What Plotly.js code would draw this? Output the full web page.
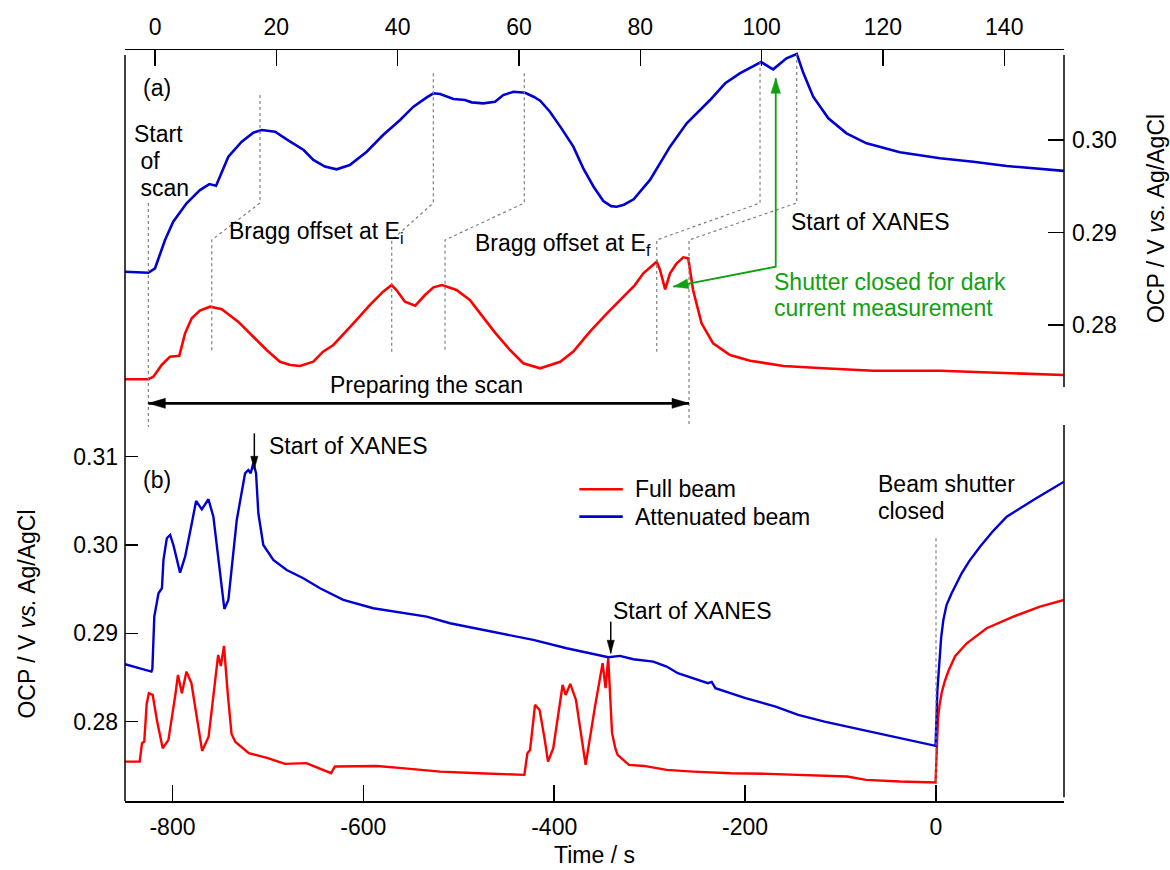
<!DOCTYPE html>
<html><head><meta charset="utf-8">
<script src="https://cdn.plot.ly/plotly-3.0.1.min.js"></script>
<style>html,body{margin:0;padding:0;background:#fff}#chart{width:1170px;height:870px}</style>
</head><body><div id="chart"></div>
<script>
// ---------------- DATA ----------------
// Panel (a): zoom on the start of a scan (time in s, OCP in V vs Ag/AgCl)
const aBlueTime = [-4.95,-1.1,0,0.82,1.65,3.0,5.2,7.4,8.96,10.06,12.09,14.29,16.2,17.6,19.8,21.7,24.5,26.1,28.0,29.95,32.1,34.9,37.6,40.4,42.6,44.8,45.9,47.0,49.2,51.1,52.2,54.1,56.05,57.4,59.1,61.0,62.4,63.5,65.1,67.0,68.96,70.6,72.3,73.9,75.2,76.1,77.3,78.9,81.6,84.9,87.65,91.5,94.0,96.4,98.6,99.9,101.9,104.1,105.8,106.9,108.5,111.0,114.0,117.3,122.8,129.4,134.9,140.4,149.8];
const aBlueOCP  = [0.28576,0.28565,0.28613,0.28757,0.28919,0.29117,0.29316,0.29459,0.29524,0.29506,0.29820,0.29982,0.30079,0.30108,0.30090,0.30007,0.29892,0.29784,0.29712,0.29683,0.29730,0.29874,0.30054,0.30216,0.30360,0.30461,0.30505,0.30497,0.30443,0.30432,0.30407,0.30396,0.30414,0.30486,0.30522,0.30511,0.30468,0.30425,0.30306,0.30126,0.29928,0.29694,0.29495,0.29340,0.29285,0.29279,0.29300,0.29359,0.29568,0.29928,0.30180,0.30432,0.30613,0.30721,0.30800,0.30843,0.30764,0.30883,0.30930,0.30721,0.30468,0.30234,0.30072,0.29964,0.29867,0.29802,0.29765,0.29719,0.29666];
const aRedTime = [-4.95,-1.1,-0.28,1.1,2.47,4.0,4.95,6.05,7.4,9.07,11.0,13.7,16.2,18.4,20.6,22.3,23.9,26.1,27.7,29.4,32.7,35.4,37.6,39.0,39.8,41.2,42.9,44.5,45.9,47.3,49.7,51.9,53.6,56.05,58.5,60.7,63.5,66.8,68.96,71.7,74.5,76.7,79.1,80.5,82.7,83.25,84.1,84.9,86.0,87.1,87.9,88.7,90.1,92.0,94.8,98.1,103.6,110.2,118.4,129.4,140.4,149.8];
const aRedOCP  = [0.27413,0.27413,0.27441,0.27568,0.27658,0.27668,0.27910,0.28072,0.28155,0.28198,0.28170,0.28036,0.27873,0.27730,0.27603,0.27568,0.27557,0.27603,0.27712,0.27784,0.28018,0.28216,0.28360,0.28432,0.28378,0.28252,0.28209,0.28324,0.28407,0.28432,0.28378,0.28270,0.28126,0.27918,0.27730,0.27586,0.27532,0.27603,0.27712,0.27928,0.28126,0.28270,0.28432,0.28559,0.28684,0.28595,0.28386,0.28559,0.28667,0.28732,0.28721,0.28378,0.28018,0.27802,0.27676,0.27614,0.27557,0.27532,0.27506,0.27506,0.27478,0.27459];

// Panel (b): full measurement (time relative to beam shutter closing)
const bRedTime = [-849.6,-834.3,-831.9,-829.5,-827,-824.7,-820.7,-816,-810.2,-804.2,-797,-794.2,-790.1,-785.3,-780.1,-774,-768.9,-762.1,-756,-752.1,-749.3,-746,-742.1,-738.1,-734,-730,-720,-700,-682,-659.8,-645.8,-633.8,-629.8,-599.7,-585.6,-559.6,-519.5,-479.4,-431.3,-428.1,-425.3,-420.1,-415.3,-410,-406.5,-401,-394,-391.2,-388,-383.2,-377.2,-373,-367.1,-357.3,-349.3,-346.2,-343.4,-339.4,-336,-333.6,-321.7,-305.9,-282.3,-254.7,-215.3,-175.9,-136.5,-93.1,-73.4,-37.9,-0.5,0.7,2,3.5,6,9.3,12.9,20,32.2,53.1,81,108.9,134.1];
const bRedOCP  = [0.27547,0.27547,0.27755,0.27774,0.28200,0.28322,0.28302,0.28000,0.27698,0.27793,0.28300,0.28529,0.28322,0.28566,0.28435,0.28000,0.27668,0.27830,0.28400,0.28755,0.28630,0.28857,0.28322,0.27860,0.27770,0.27736,0.27642,0.27586,0.27521,0.27530,0.27473,0.27416,0.27492,0.27492,0.27498,0.27473,0.27434,0.27416,0.27397,0.27642,0.27679,0.28189,0.28132,0.27800,0.27547,0.27700,0.28200,0.28415,0.28302,0.28427,0.28245,0.27943,0.27510,0.28170,0.28661,0.28378,0.28718,0.27869,0.27700,0.27623,0.27510,0.27498,0.27453,0.27434,0.27416,0.27408,0.27397,0.27378,0.27340,0.27321,0.27310,0.27793,0.28020,0.28170,0.28330,0.28460,0.28570,0.28740,0.28887,0.29057,0.29189,0.29302,0.29378];
const bBlueTime = [-849.7,-830.5,-822,-821,-819,-814.6,-811,-809.4,-805.9,-802.4,-799,-792,-786.7,-779.7,-775.2,-769.2,-762.3,-757.1,-750.1,-745.6,-741.4,-732.6,-723.9,-720.5,-718,-715.2,-712.4,-710,-704.8,-694.3,-680.3,-662.9,-645.4,-621,-589.6,-561.6,-533.6,-509.2,-491.7,-456.8,-421.9,-387,-352,-343.3,-331.1,-317.1,-296.2,-282.2,-270.5,-239,-235,-231.1,-199.6,-168,-144.4,-116.8,-77.3,-37.9,-0.5,1.5,3.5,5.4,7.7,11,16.4,26.9,35,46.1,60,74.1,102,134.1];
const bBlueOCP  = [0.28650,0.28593,0.28566,0.28600,0.29189,0.29453,0.29510,0.29831,0.30076,0.30114,0.30000,0.29687,0.29868,0.30246,0.30498,0.30404,0.30518,0.30321,0.29641,0.29276,0.29378,0.30283,0.30812,0.30849,0.30812,0.30932,0.30812,0.30359,0.30000,0.29831,0.29717,0.29623,0.29510,0.29378,0.29284,0.29240,0.29189,0.29114,0.29075,0.29000,0.28925,0.28831,0.28755,0.28729,0.28744,0.28706,0.28680,0.28623,0.28548,0.28435,0.28450,0.28378,0.28265,0.28170,0.28076,0.28000,0.27906,0.27812,0.27725,0.28359,0.28700,0.28950,0.29151,0.29320,0.29453,0.29680,0.29820,0.29981,0.30160,0.30321,0.30510,0.30717];

const seriesNames = ['Full beam', 'Attenuated beam'];
const topXTicks = [0,20,40,60,80,100,120,140];
const topYTicks = [0.28,0.29,0.30];
const botXTicks = [-800,-600,-400,-200,0];
const botYTicks = [0.28,0.29,0.30,0.31];

// ---------------- LAYOUT GEOMETRY ----------------
const W = 1170, H = 870;
const M = {l:125, r:106, t:50, b:69};
const PW = W - M.l - M.r, PH = H - M.t - M.b;
const xr1 = [-4.95, 149.85], yr1 = [0.2733, 0.30973], dom1 = [0.5513, 1];
const xr2 = [-849.7, 134.1], yr2 = [0.27101, 0.31336], dom2 = [0, 0.498];
const RED = '#ff0000', BLUE = '#0000d0', GREEN = '#11a011', DOT = '#808080';
const FONT = 'Liberation Sans, Arial, Helvetica, sans-serif';
const FS = 23;

const px1 = t => (t - xr1[0]) / (xr1[1] - xr1[0]);
const py1 = v => dom1[0] + (v - yr1[0]) / (yr1[1] - yr1[0]) * (dom1[1] - dom1[0]);
const px2 = s => (s - xr2[0]) / (xr2[1] - xr2[0]);
const py2 = v => dom2[0] + (v - yr2[0]) / (yr2[1] - yr2[0]) * (dom2[1] - dom2[0]);
const toPix = (xp, yp) => [M.l + xp * PW, M.t + (1 - yp) * PH];
const toPap = (X, Y) => [(X - M.l) / PW, 1 - (Y - M.t) / PH];

function pathShape(pts, color, width, dash) {
  const d = pts.map((p, i) => (i ? 'L' : 'M') + p[0].toFixed(5) + ',' + p[1].toFixed(5)).join(' ');
  return {type:'path', xref:'paper', yref:'paper', path:d, line:{color:color, width:width, dash:dash||'solid'}, layer:'above'};
}
function arrowHead(tip, from, len, hw, color) {
  const [X, Y] = toPix(tip[0], tip[1]);
  const [FX, FY] = toPix(from[0], from[1]);
  let dx = X - FX, dy = Y - FY; const d = Math.hypot(dx, dy); dx /= d; dy /= d;
  const bx = X - dx * len, by = Y - dy * len;
  const p1 = toPap(bx - dy * hw, by + dx * hw), p2 = toPap(bx + dy * hw, by - dx * hw);
  const d2 = 'M' + tip[0] + ',' + tip[1] + ' L' + p1[0] + ',' + p1[1] + ' L' + p2[0] + ',' + p2[1] + ' Z';
  return {type:'path', xref:'paper', yref:'paper', path:d2, fillcolor:color, line:{color:color, width:0.5}, layer:'above'};
}
function txt(text, xp, yp, xanchor, color, extra) {
  return Object.assign({text:text, x:xp, y:yp, xref:'paper', yref:'paper', xanchor:xanchor||'left', yanchor:'middle',
    showarrow:false, font:{family:FONT, size:FS, color:color||'#000'}, align:'left'}, extra||{});
}

// ---------------- TRACES ----------------
const traces = [
  {x:aBlueTime, y:aBlueOCP, xaxis:'x', yaxis:'y', mode:'lines', line:{color:BLUE, width:2.6}, showlegend:false, hoverinfo:'skip'},
  {x:aRedTime, y:aRedOCP, xaxis:'x', yaxis:'y', mode:'lines', line:{color:RED, width:2.6}, showlegend:false, hoverinfo:'skip'},
  {x:bRedTime, y:bRedOCP, xaxis:'x2', yaxis:'y2', mode:'lines', line:{color:RED, width:2.4}, name:seriesNames[0], showlegend:false},
  {x:bBlueTime, y:bBlueOCP, xaxis:'x2', yaxis:'y2', mode:'lines', line:{color:BLUE, width:2.4}, name:seriesNames[1], showlegend:false}
];

// ---------------- SHAPES ----------------
const shapes = [];
// frame lines
shapes.push(pathShape([[0, 0], [0, 1 - 5 / PH]], '#000', 1.5));
shapes.push(pathShape([[1, dom1[0]], [1, 1 - 5 / PH]], '#000', 1.5));
shapes.push(pathShape([[1, 0.005], [1, dom2[1] + 2 / PH]], '#000', 1.5));

// dotted guide lines in panel (a) (data units of the top axes)
const vTop = 0.29319, vMid = 0.28919, vLow = 0.27711;
const guides = [
  [[17.31, 0.30486], [9.35]],
  [[45.88, 0.30721], [39.02]],
  [[60.88, 0.30721], [47.81]],
  [[99.74, 0.30846], [82.71]],
];
shapes.push(pathShape([[px1(-1.1), py1(vTop)], [px1(-1.1), dom2[1]]], DOT, 1.2, 'dot'));
guides.forEach(g => {
  shapes.push(pathShape([[px1(g[0][0]), py1(g[0][1])], [px1(g[0][0]), py1(vTop)], [px1(g[1][0]), py1(vMid)], [px1(g[1][0]), py1(vLow)]], DOT, 1.2, 'dot'));
});
shapes.push(pathShape([[px1(105.79), py1(0.30930)], [px1(105.79), py1(vTop)], [px1(88.03), py1(vMid)], [px1(88.03), dom2[1]]], DOT, 1.2, 'dot'));
// dotted line at beam shutter closing, panel (b)
shapes.push(pathShape([[px2(0), py2(0.30076)], [px2(0), py2(0.27306)]], DOT, 1.2, 'dot'));

// "Preparing the scan" double arrow
const prepY = py1(0.27153), prepL = [px1(-1.1), prepY], prepR = [px1(88.03), prepY];
shapes.push(pathShape([prepL, prepR], '#000', 2.8));
shapes.push(arrowHead(prepL, prepR, 17, 5, '#000'));
shapes.push(arrowHead(prepR, prepL, 17, 5, '#000'));

// green arrows
const gTail = [px1(102.33), py1(0.28630)], gUp = [px1(102.33), py1(0.30667)], gLeft = [px1(85.44), py1(0.28414)];
shapes.push(pathShape([gUp, gTail, gLeft], GREEN, 1.8));
shapes.push(arrowHead(gUp, gTail, 15, 4.8, GREEN));
shapes.push(arrowHead(gLeft, gTail, 15, 4.8, GREEN));

// small black arrows in panel (b)
const a1Top = [px2(-714.2), py2(0.31264)], a1Tip = [px2(-714.2), py2(0.30857)];
const a2Top = [px2(-340.8), py2(0.29132)], a2Tip = [px2(-340.8), py2(0.28774)];
shapes.push(pathShape([a1Top, a1Tip], '#000', 1.5));
shapes.push(arrowHead(a1Tip, a1Top, 13, 3.6, '#000'));
shapes.push(pathShape([a2Top, a2Tip], '#000', 1.5));
shapes.push(arrowHead(a2Tip, a2Top, 13, 3.6, '#000'));

// legend of panel (b), drawn in its data units
const legX0 = -373.7, legX1 = -328.2, legTextX = -317.1, legY = [0.30631, 0.30321];
const legColors = [RED, BLUE];
legY.forEach((v, i) => shapes.push(pathShape([[px2(legX0), py2(v)], [px2(legX1), py2(v)]], legColors[i], 2.6)));

// ---------------- ANNOTATIONS ----------------
const annotations = [
  txt('(a)', px1(0.28), py1(0.30559), 'center'),
  txt('Start', px1(-3.84), py1(0.30062)),
  txt('\u00a0of', px1(-3.84), py1(0.29776)),
  txt('\u00a0scan', px1(-3.84), py1(0.29478)),
  txt('Bragg offset at E<sub>i</sub>', px1(11.92), py1(0.29000), 'left', '#000'),
  txt('Bragg offset at E<sub>f</sub>', px1(52.42), py1(0.28866), 'left', '#000'),
  txt('Start of XANES', px1(104.57), py1(0.29117)),
  txt('Shutter closed for dark', px1(101.77), py1(0.28462), 'left', GREEN),
  txt('current measurement', px1(101.77), py1(0.28181), 'left', GREEN),
  txt('Preparing the scan', px1(44.68), py1(0.27351), 'center'),
  txt('(b)', px2(-816.4), py2(0.30736), 'center'),
  txt('Start of XANES', px2(-701.2), py2(0.31121)),
  txt('Start of XANES', px2(-340.8), py2(0.29257)),
  txt('Beam shutter', px2(-62.9), py2(0.30688)),
  txt('closed', px2(-62.9), py2(0.30389)),
  txt(seriesNames[0], px2(legTextX), py2(legY[0])),
  txt(seriesNames[1], px2(legTextX), py2(legY[1])),
];

const axisCommon = {showgrid:false, zeroline:false, ticks:'inside', tickcolor:'#000', tickwidth:1.5,
  tickfont:{family:FONT, size:FS, color:'#000'}, linecolor:'#000', linewidth:1.5, automargin:false};

const layout = {
  width:W, height:H, margin:M, paper_bgcolor:'#fff', plot_bgcolor:'rgba(0,0,0,0)',
  font:{family:FONT, size:FS, color:'#000'},
  showlegend:false,
  xaxis:Object.assign({}, axisCommon, {domain:[0,1], anchor:'y', side:'top', range:xr1, tickvals:topXTicks,
          ticktext:topXTicks.map(String), ticklen:16, showline:true, ticklabelstandoff:4}),
  yaxis:Object.assign({}, axisCommon, {domain:dom1, anchor:'x', side:'right', range:yr1, tickvals:topYTicks,
          ticktext:topYTicks.map(v => v.toFixed(2)), ticklen:16, showline:false, ticklabelstandoff:7,
          title:{text:'OCP / V <i>vs.</i> Ag/AgCl', standoff:32, font:{family:FONT, size:FS, color:'#000'}}}),
  xaxis2:Object.assign({}, axisCommon, {domain:[0,1], anchor:'y2', range:xr2, tickvals:botXTicks,
          ticktext:botXTicks.map(String), ticklen:16, showline:true, ticklabelstandoff:5,
          title:{text:'Time / s', standoff:8, font:{family:FONT, size:FS, color:'#000'}}}),
  yaxis2:Object.assign({}, axisCommon, {domain:dom2, anchor:'x2', range:yr2, tickvals:botYTicks,
          ticktext:botYTicks.map(v => v.toFixed(2)), ticklen:13, showline:false, ticklabelstandoff:6,
          title:{text:'OCP / V <i>vs.</i> Ag/AgCl', standoff:31, font:{family:FONT, size:FS, color:'#000'}}}),
  shapes:shapes,
  annotations:annotations
};

Plotly.newPlot('chart', traces, layout, {staticPlot:true, displayModeBar:false});
</script>
</body></html>
